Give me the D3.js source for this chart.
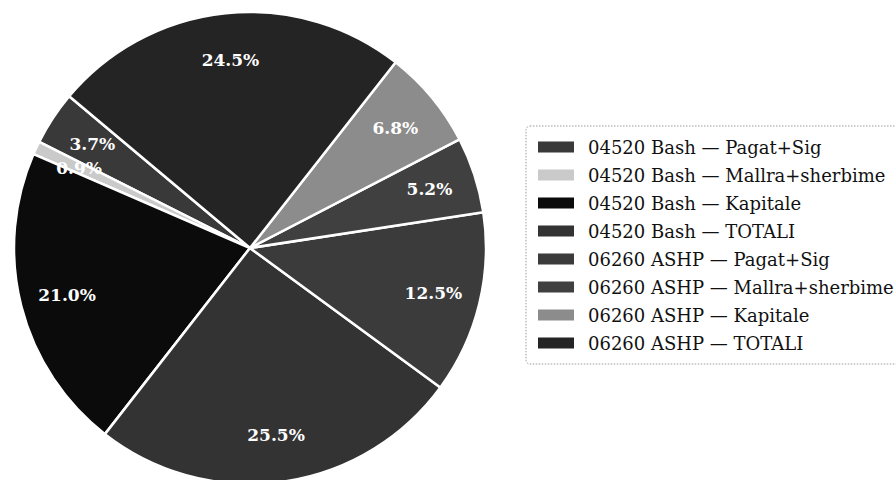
<!DOCTYPE html>
<html>
<head>
<meta charset="utf-8">
<script src="https://cdn.jsdelivr.net/npm/d3@7"></script>
<style>
  body { margin: 0; background: #fff; }
  svg { display: block; }
</style>
</head>
<body>
<svg id="chart" width="896" height="480"></svg>
<script>
// data: one slice per legend entry, in legend order
var categories = [
  "04520 Bash — Pagat+Sig",
  "04520 Bash — Mallra+sherbime",
  "04520 Bash — Kapitale",
  "04520 Bash — TOTALI",
  "06260 ASHP — Pagat+Sig",
  "06260 ASHP — Mallra+sherbime",
  "06260 ASHP — Kapitale",
  "06260 ASHP — TOTALI"
]
var values = [3.7, 0.9, 21.0, 25.5, 12.5, 5.2, 6.8, 24.5]

// grey shades of the scanned original
var shades = ["#393939", "#cacaca", "#0b0b0b", "#333333", "#3b3b3b", "#404040", "#8c8c8c", "#242424"]

var svg = d3.select("#chart")
var width = 896, height = 480
var cx = 250, cy = 248, radius = 236

svg.append("rect").attr("width", width).attr("height", height).style("fill", "#fff")

var color = d3.scaleOrdinal()
  .domain(categories)
  .range(shades)

var total = d3.sum(values)

// start at 140 deg (counter-clockwise from 3 o'clock), go counter-clockwise
var start = (90 - 140) * Math.PI / 180
var pie = d3.pie()
  .sort(null)
  .value(function(d) { return d.value })
  .startAngle(start)
  .endAngle(start - 2 * Math.PI)

var slices = pie(categories.map(function(c, i) { return { name: c, value: values[i] } }))

var arc = d3.arc().innerRadius(0).outerRadius(radius)
var labelArc = d3.arc().innerRadius(radius * 0.8).outerRadius(radius * 0.8)

var g = svg.append("g").attr("transform", "translate(" + cx + "," + cy + ")")

g.selectAll("path")
  .data(slices)
  .enter().append("path")
  .attr("d", arc)
  .style("fill", function(d) { return color(d.data.name) })
  .style("stroke", "#fff")
  .style("stroke-width", 2.5)
  .style("stroke-linejoin", "round")

g.selectAll("text")
  .data(slices)
  .enter().append("text")
  .attr("x", function(d) { return labelArc.centroid(d)[0] })
  .attr("y", function(d) { return labelArc.centroid(d)[1] })
  .attr("text-anchor", "middle")
  .attr("dominant-baseline", "central")
  .style("font-family", "'DejaVu Serif', serif")
  .style("font-weight", "bold")
  .style("font-size", "17px")
  .style("fill", "#fff")
  .text(function(d) { return d3.format(".1f")(d.data.value / total * 100) + "%" })

// legend
var legendX = 526, legendY = 126, rowStep = 28
var rowY = d3.scaleLinear().domain([0, 1]).range([legendY + 21, legendY + 21 + rowStep])

svg.append("rect")
  .attr("x", legendX)
  .attr("y", legendY)
  .attr("width", 420)
  .attr("height", rowStep * categories.length + 14)
  .attr("rx", 4)
  .style("fill", "#fff")
  .style("stroke", "#9a9a9a")
  .style("stroke-width", 1)
  .style("stroke-dasharray", "1.5,1.5")

var rows = svg.selectAll(".row")
  .data(categories)
  .enter().append("g")
  .attr("class", "row")
  .attr("transform", function(d, i) { return "translate(0," + rowY(i) + ")" })

rows.append("rect")
  .attr("x", legendX + 12)
  .attr("y", -5.5)
  .attr("width", 36)
  .attr("height", 11)
  .style("fill", function(d) { return color(d) })

rows.append("text")
  .attr("x", legendX + 62)
  .attr("y", 0)
  .attr("dominant-baseline", "central")
  .style("font-family", "'DejaVu Serif', serif")
  .style("font-size", "18px")
  .style("fill", "#111")
  .text(function(d) { return d })
</script>
</body>
</html>
